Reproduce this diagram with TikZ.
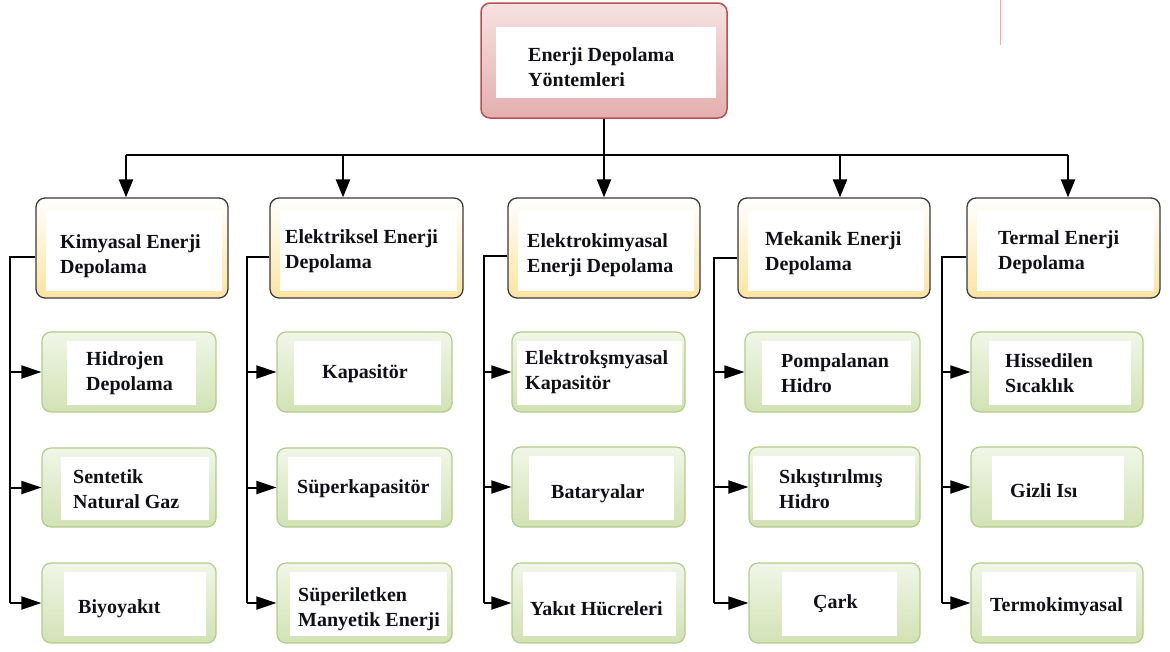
\documentclass[tikz,border=0pt]{standalone}
\usepackage{fontspec}
\setmainfont{Liberation Serif}
\usetikzlibrary{arrows.meta,calc}
\definecolor{topborder}{HTML}{B9504F}
\definecolor{toptop}{HTML}{F6E2E1}
\definecolor{topbot}{HTML}{E3AFAE}
\definecolor{catborder}{HTML}{3A3A3A}
\definecolor{catbot}{HTML}{FCE4A0}
\definecolor{leafborder}{HTML}{B3CC8A}
\definecolor{leaftop}{HTML}{F1F6E8}
\definecolor{leafbot}{HTML}{D2E2B4}
\definecolor{txtcol}{HTML}{101018}
\tikzset{
  topbox/.style={draw=topborder, line width=1.5pt, rounded corners=9pt, top color=toptop, bottom color=topbot},
  catbox/.style={draw=catborder, line width=1.3pt, rounded corners=9pt, top color=white, bottom color=catbot},
  leafbox/.style={draw=leafborder, line width=1.2pt, rounded corners=9pt, top color=leaftop, bottom color=leafbot},
  lbl/.style={font=\bfseries\fontsize{20}{25}\selectfont, inner sep=0pt, align=left, text=txtcol, anchor=west, yshift=-2.5pt},
  bus/.style={line width=2.8pt},
  downarr/.style={line width=2.4pt, -{Triangle[length=18pt,width=14pt]}},
  sideline/.style={line width=2pt},
  sidearr/.style={line width=2pt, -{Triangle[length=20pt,width=13pt]}},
}
\newcommand\mkbox[6]{\node[#1, minimum width={#5-#3}, minimum height={#6-#4}, inner sep=0pt] (#2) at ({(#3+#5)/2},{(#4+#6)/2}) {};}
\newcommand\inbox[5]{\fill[white] ($(#1.north west)+(#2,#3)$) rectangle ($(#1.south east)+(-#4,-#5)$);}
\newcommand\leafbx[7]{\mkbox{leafbox}{#1}{#2}{#3}{#4}{#5}\inbox{#1}{#6}{10}{#7}{8}}
\newcommand\catbx[5]{\mkbox{catbox}{#1}{#2}{#3}{#4}{#5}\inbox{#1}{11}{14}{7}{8}}
\begin{document}
\begin{tikzpicture}[x=1pt,y=-1pt]
\useasboundingbox[fill=white] (0,0) rectangle (1170,651);
% stray thin line at top right
\draw[red!35, line width=1pt] (1000,0) -- (1000,45);
% top box
\mkbox{topbox}{top}{481}{3}{727}{118}
\inbox{top}{16}{25}{12}{21}
\node[lbl] (ttop) at (528,64.5) {Enerji Depolama\\Yöntemleri};
% category boxes
\catbx{c1}{36}{198}{228}{298}
\catbx{c2}{270}{198}{463}{298}
\catbx{c3}{508}{198}{700}{298}
\catbx{c4}{738}{198}{930}{298}
\catbx{c5}{967}{198}{1160}{298}
\node[lbl] (tc1) at (60,253.5) {Kimyasal Enerji\\Depolama};
\node[lbl] (tc2) at (285,248.5) {Elektriksel Enerji\\Depolama};
\node[lbl] (tc3) at (527,252.5) {Elektrokimyasal\\Enerji Depolama};
\node[lbl] (tc4) at (765,250.5) {Mekanik Enerji\\Depolama};
\node[lbl] (tc5) at (998,249.5) {Termal Enerji\\Depolama};
% leaf boxes
\leafbx{l11}{42}{332}{216}{412}{26}{21}
\leafbx{l12}{42}{448}{216}{527}{20}{8}
\leafbx{l13}{42}{563}{216}{643}{23}{11}
\leafbx{l21}{277}{332}{452}{412}{18}{12}
\leafbx{l22}{277}{448}{452}{527}{12}{12}
\leafbx{l23}{277}{563}{452}{643}{14}{6}
\leafbx{l31}{512}{332}{685}{412}{6}{4}
\leafbx{l32}{512}{447}{685}{527}{18}{12}
\leafbx{l33}{512}{563}{685}{643}{12}{10}
\leafbx{l41}{745}{332}{920}{412}{18}{10}
\leafbx{l42}{749}{447}{920}{527}{5}{6}
\leafbx{l43}{749}{563}{920}{643}{34}{24}
\leafbx{l51}{971}{332}{1143}{412}{19}{13}
\leafbx{l52}{971}{447}{1143}{527}{22}{20}
\leafbx{l53}{971}{563}{1143}{643}{12}{8}
\node[lbl] (t11) at (86,370.5) {Hidrojen\\Depolama};
\node[lbl] (t12) at (73,486.5) {Sentetik\\Natural Gaz};
\node[lbl] (t13) at (78,606) {Biyoyakıt};
\node[lbl] (t21) at (322,371) {Kapasitör};
\node[lbl] (t22) at (297,486) {Süperkapasitör};
\node[lbl] (t23) at (298,606.5) {Süperiletken\\Manyetik Enerji};
\node[lbl] (t31) at (525,369.5) {Elektrokşmyasal\\Kapasitör};
\node[lbl] (t32) at (551,491) {Bataryalar};
\node[lbl] (t33) at (530,606) {Yakıt Hücreleri};
\node[lbl] (t41) at (781,370.5) {Pompalanan\\Hidro};
\node[lbl] (t42) at (779,487) {Sıkıştırılmış\\Hidro};
\node[lbl] (t43) at (813,601) {Çark};
\node[lbl] (t51) at (1005,371) {Hissedilen\\Sıcaklık};
\node[lbl] (t52) at (1010,488) {Gizli Isı};
\node[lbl] (t53) at (990,604) {Termokimyasal};
% bus
\coordinate (b1) at (126,155);
\coordinate (b2) at (343,155);
\coordinate (b4) at (840,155);
\coordinate (b5) at (1068,155);
\draw[bus] (b1) -- (b5);
\draw[downarr] (top.south) -- (top.south |- c3.north);
\draw[downarr] (b1) -- (b1 |- c1.north);
\draw[downarr] (b2) -- (b2 |- c2.north);
\draw[downarr] (b4) -- (b4 |- c4.north);
\draw[downarr] (b5) -- (b5 |- c5.north);
% side connectors
\coordinate (s1) at (10,257);
\coordinate (s2) at (247,257);
\coordinate (s3) at (484,256);
\coordinate (s4) at (714,258);
\coordinate (s5) at (942,257);
\foreach \i in {1,...,5}{
  \draw[sideline] (c\i.west |- s\i) -- (s\i) -- (s\i |- l\i3.west);
  \draw[sidearr] (s\i |- l\i1.west) -- (l\i1.west);
  \draw[sidearr] (s\i |- l\i2.west) -- (l\i2.west);
  \draw[sidearr] (s\i |- l\i3.west) -- (l\i3.west);
}
\end{tikzpicture}
\end{document}
